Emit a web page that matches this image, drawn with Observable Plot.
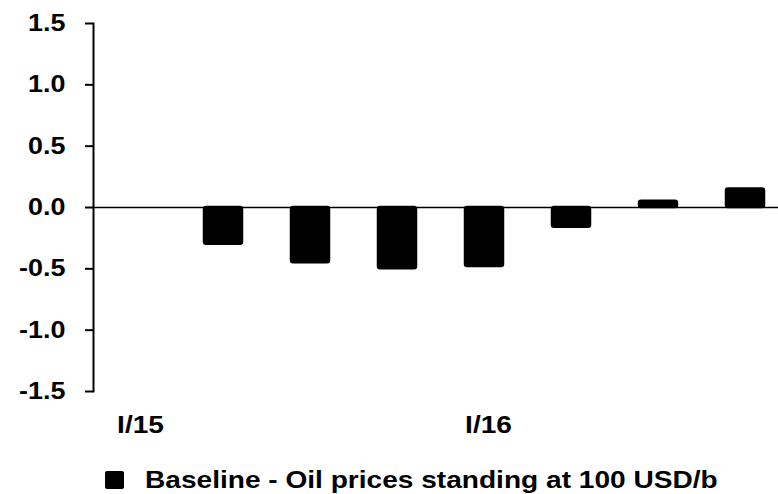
<!DOCTYPE html>
<html>
<head>
<meta charset="utf-8">
<script src="https://cdn.jsdelivr.net/npm/d3@7"></script>
<script src="https://cdn.jsdelivr.net/npm/@observablehq/plot@0.6"></script>
<style>
  html, body { margin: 0; padding: 0; background: #fff; overflow: hidden; }
  #chart { width: 778px; height: 450px; }
  .legend { font-family: "Liberation Sans", Arial, sans-serif; font-weight: bold; font-size: 24px;
            color: #000; display: flex; align-items: center; height: 44px; margin-top: 8px;
            padding-left: 105px; box-sizing: border-box; white-space: nowrap; }
  .legend .sw { width: 19px; height: 18px; background: #000; border-radius: 2px; margin-right: 21px; flex: none; }
  .legend .lbl { display: inline-block; transform: scaleX(1.17); transform-origin: left center; }
</style>
</head>
<body>
<div id="chart"></div>
<script>
const categories = ["I/15", "II/15", "III/15", "IV/15", "I/16", "II/16", "III/16", "IV/16"];
const values = [0, -0.3, -0.45, -0.5, -0.48, -0.16, 0.05, 0.15];
const shownLabels = ["I/15", "I/16"];
const yTicks = [-1.5, -1.0, -0.5, 0.0, 0.5, 1.0, 1.5];
const seriesName = "Baseline - Oil prices standing at 100 USD/b";

const data = categories.map((c, i) => ({cat: c, v: values[i]}));

const chart = Plot.plot({
  width: 778,
  height: 450,
  marginLeft: 93,
  marginRight: 0,
  marginTop: 23,
  marginBottom: 59,
  style: {fontFamily: "'Liberation Sans', Arial, sans-serif", fontWeight: "bold", fontSize: "24px", color: "#000", background: "#fff", overflow: "visible"},
  x: {domain: categories, range: [91, 790], paddingInner: 0.56, paddingOuter: 0.28},
  y: {domain: [-1.5, 1.5]},
  marks: [
    Plot.barY(data.filter(d => d.v !== 0), {x: "cat", y: "v", fill: "#000", stroke: "#000", strokeWidth: 2.5, strokeLinejoin: "round", rx: 2}),
    Plot.ruleY([0], {stroke: "#000", strokeWidth: 1.5}),
    Plot.frame({anchor: "left", stroke: "#000", strokeWidth: 2}),
    Plot.axisY({ticks: yTicks, tickFormat: d => d.toFixed(1), tickSize: 8, tickPadding: 20, fontSize: 23, label: null, stroke: "#000", strokeWidth: 2}),
    Plot.axisX({tickSize: 0, tickPadding: 24, label: null, dx: 4, tickFormat: d => shownLabels.includes(d) ? d : ""})
  ]
});
document.getElementById("chart").appendChild(chart);

// the reference typeface is drawn horizontally wider than Liberation Sans
chart.querySelectorAll("text").forEach(t => {
  const L = t.getComputedTextLength();
  if (L > 0) {
    t.setAttribute("textLength", (L * 1.17).toFixed(1));
    t.setAttribute("lengthAdjust", "spacingAndGlyphs");
  }
});

const leg = document.createElement("div");
leg.className = "legend";
leg.innerHTML = '<span class="sw"></span><span class="lbl"></span>';
leg.lastChild.textContent = seriesName;
document.body.appendChild(leg);
</script>
</body>
</html>
